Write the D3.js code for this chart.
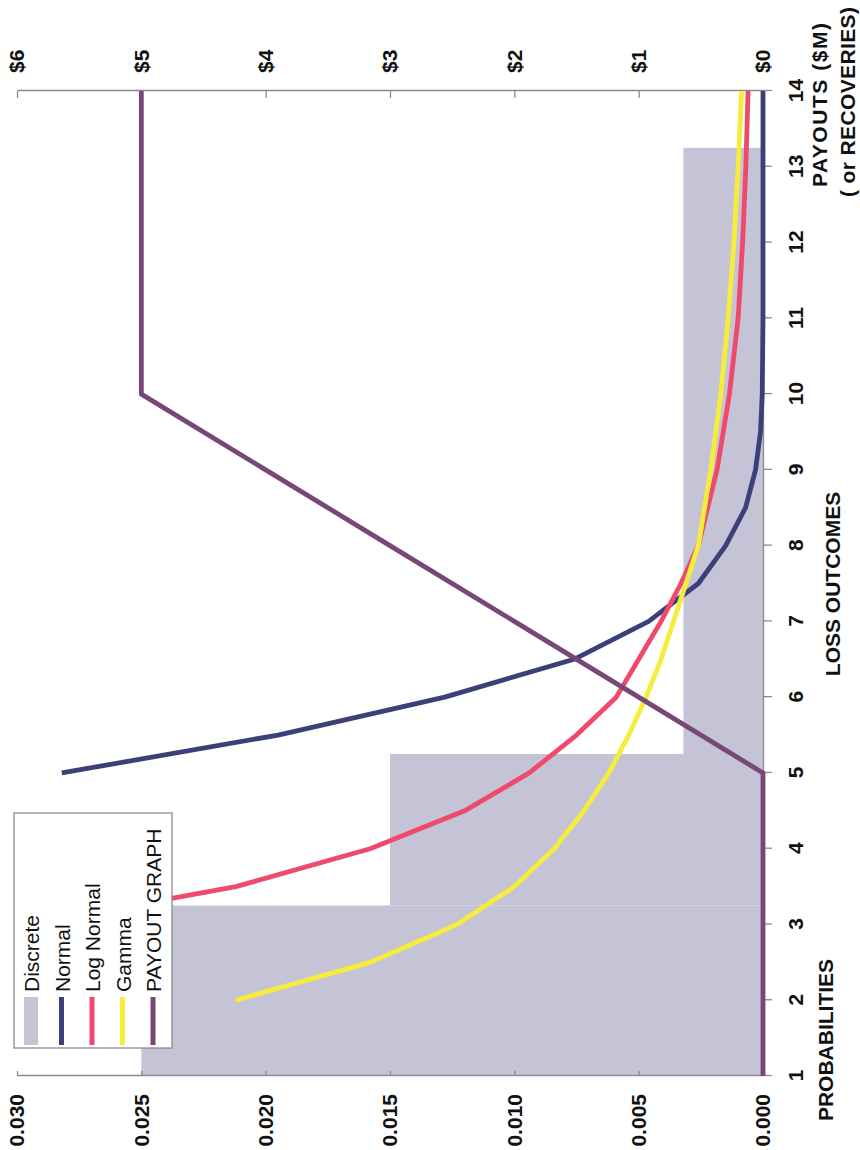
<!DOCTYPE html>
<html><head><meta charset="utf-8">
<script src="https://cdn.jsdelivr.net/npm/d3@7"></script>
<style>
body{margin:0;background:#fff}
svg{display:block;font-family:"Liberation Sans",Arial,sans-serif}
</style>
</head><body>
<svg id="c" width="860" height="1150"></svg>
<script>
// ---- data ----
const outcomes = [1,2,3,4,5,6,7,8,9,10,11,12,13,14];
const discreteFrom = [1, 3.25, 5.25];
const discreteTo   = [3.25, 5.25, 13.25];
const discreteProb = [0.025, 0.015, 0.0032];
const normalX = [5,5.5,6,6.5,7,7.5,8,8.5,9,9.5,10,11,12,13,14];
const normalP = [0.0282,0.0195,0.0128,0.0076,0.0046,0.0026,0.0015,0.0007,0.0003,0.0001,0.00003,0,0,0,0];
const logNormalX = [3,3.5,4,4.5,5,5.5,6,6.5,7,7.5,8,9,10,11,12,13,14];
const logNormalP = [0.0295,0.0212,0.0158,0.0120,0.0094,0.0075,0.0059,0.0050,0.0041,0.0033,0.0026,0.00185,0.00135,0.0010,0.00082,0.00069,0.0006];
const gammaX = [2,2.5,3,3.5,4,4.5,5,5.5,6,6.5,7,7.5,8,9,10,11,12,13,14];
const gammaP = [0.0212,0.0158,0.0123,0.0100,0.0084,0.0072,0.0062,0.0054,0.0047,0.0041,0.0036,0.0031,0.0026,0.0021,0.0017,0.0014,0.00117,0.0010,0.00086];
const payoutX = outcomes;
const payoutM = [0,0,0,0,0,1,2,3,4,5,5,5,5,5];
const probTicks = [0,0.005,0.010,0.015,0.020,0.025,0.030];
const payoutTicks = [0,1,2,3,4,5,6];
const legendLabels = ["Discrete","Normal","Log Normal","Gamma","PAYOUT GRAPH"];
const colors = {discrete:"#c5c3d6", normal:"#3c3f78", logNormal:"#ef4a6c", gamma:"#f6ec3c", payout:"#774877"};

// ---- chart (drawn in landscape, then rotated -90deg) ----
const svg = d3.select("#c");
const g = svg.append("g").attr("transform","translate(0,1150) rotate(-90)");

const x = d3.scaleLinear().domain([1,14]).range([74,1059]);
const y = d3.scaleLinear().domain([0,0.03]).range([763,17]);
const y2 = d3.scaleLinear().domain([0,6]).range([763,17]);

// discrete area
g.append("g").selectAll("rect").data(d3.range(discreteProb.length)).join("rect")
  .attr("x", i => x(discreteFrom[i]))
  .attr("width", i => x(discreteTo[i]) - x(discreteFrom[i]))
  .attr("y", i => y(discreteProb[i]))
  .attr("height", i => y(0) - y(discreteProb[i]))
  .attr("fill", colors.discrete);

// axes
const axisColor = "#8a8a8a";
const xAxis = g.append("g").attr("transform",`translate(0,${y(0)})`)
  .call(d3.axisBottom(x).tickValues(outcomes).tickFormat(d3.format("d")).tickSizeInner(9).tickSizeOuter(0).tickPadding(16));
const yAxis = g.append("g").attr("transform",`translate(${x(1)},0)`)
  .call(d3.axisLeft(y).tickValues(probTicks).tickFormat(d3.format(".3f")).tickSizeInner(-5).tickSizeOuter(0).tickPadding(18));
const y2Axis = g.append("g").attr("transform",`translate(${x(14)},0)`)
  .call(d3.axisRight(y2).tickValues(payoutTicks).tickFormat(d => "$" + d).tickSizeInner(-7).tickSizeOuter(0).tickPadding(18));
[xAxis,yAxis,y2Axis].forEach(a => {
  a.attr("font-family",null).attr("font-size",null);
  a.selectAll("path,line").attr("stroke",axisColor).attr("stroke-width",1.3);
  a.selectAll("text").attr("fill","#111").style("font-size","21px").style("font-weight","bold");
});

// lines
const line = d3.line().x(d => x(d[0]));
function drawLine(xs, vs, scale, color){
  g.append("path").datum(d3.zip(xs, vs))
    .attr("d", line.y(d => scale(d[1])))
    .attr("fill","none").attr("stroke",color).attr("stroke-width",4.8)
    .attr("stroke-linejoin","round").attr("stroke-linecap","butt");
}
drawLine(normalX, normalP, y, colors.normal);
drawLine(logNormalX, logNormalP, y, colors.logNormal);
drawLine(gammaX, gammaP, y, colors.gamma);
drawLine(payoutX, payoutM, y2, colors.payout);

// axis titles
const titles = [
  {t:"PROBABILITIES", u:110, v:833, len:null},
  {t:"LOSS OUTCOMES", u:566, v:840, len:null},
  {t:"PAYOUTS ($M)", u:1045, v:827, len:164},
  {t:"( or RECOVERIES)", u:1048, v:855, len:190}
];
titles.forEach(d => {
  const tx = g.append("text").attr("x", d.u).attr("y", d.v).attr("text-anchor","middle")
    .attr("font-size",21).attr("font-weight","bold").attr("fill","#111").text(d.t);
  if (d.len) tx.attr("textLength", d.len).attr("lengthAdjust","spacing");
});

// legend
const lg = g.append("g");
lg.append("rect").attr("x",102).attr("y",14).attr("width",235).attr("height",158)
  .attr("fill","#fff").attr("stroke","#8a8a8a").attr("stroke-width",1.3);
const legendColors = [colors.discrete, colors.normal, colors.logNormal, colors.gamma, colors.payout];
const lv = d3.scalePoint().domain(legendLabels).range([31,153]);
legendLabels.forEach((lab,i) => {
  const c = lv(lab);
  if (i === 0) {
    lg.append("rect").attr("x",105).attr("width",48).attr("y",c-7).attr("height",14).attr("fill",legendColors[i]);
  } else {
    lg.append("line").attr("x1",105).attr("x2",153).attr("y1",c).attr("y2",c)
      .attr("stroke",legendColors[i]).attr("stroke-width",5);
  }
  lg.append("text").attr("x",158).attr("y",c+8).attr("font-size",21).attr("fill","#111").text(lab);
});
</script>
</body></html>
